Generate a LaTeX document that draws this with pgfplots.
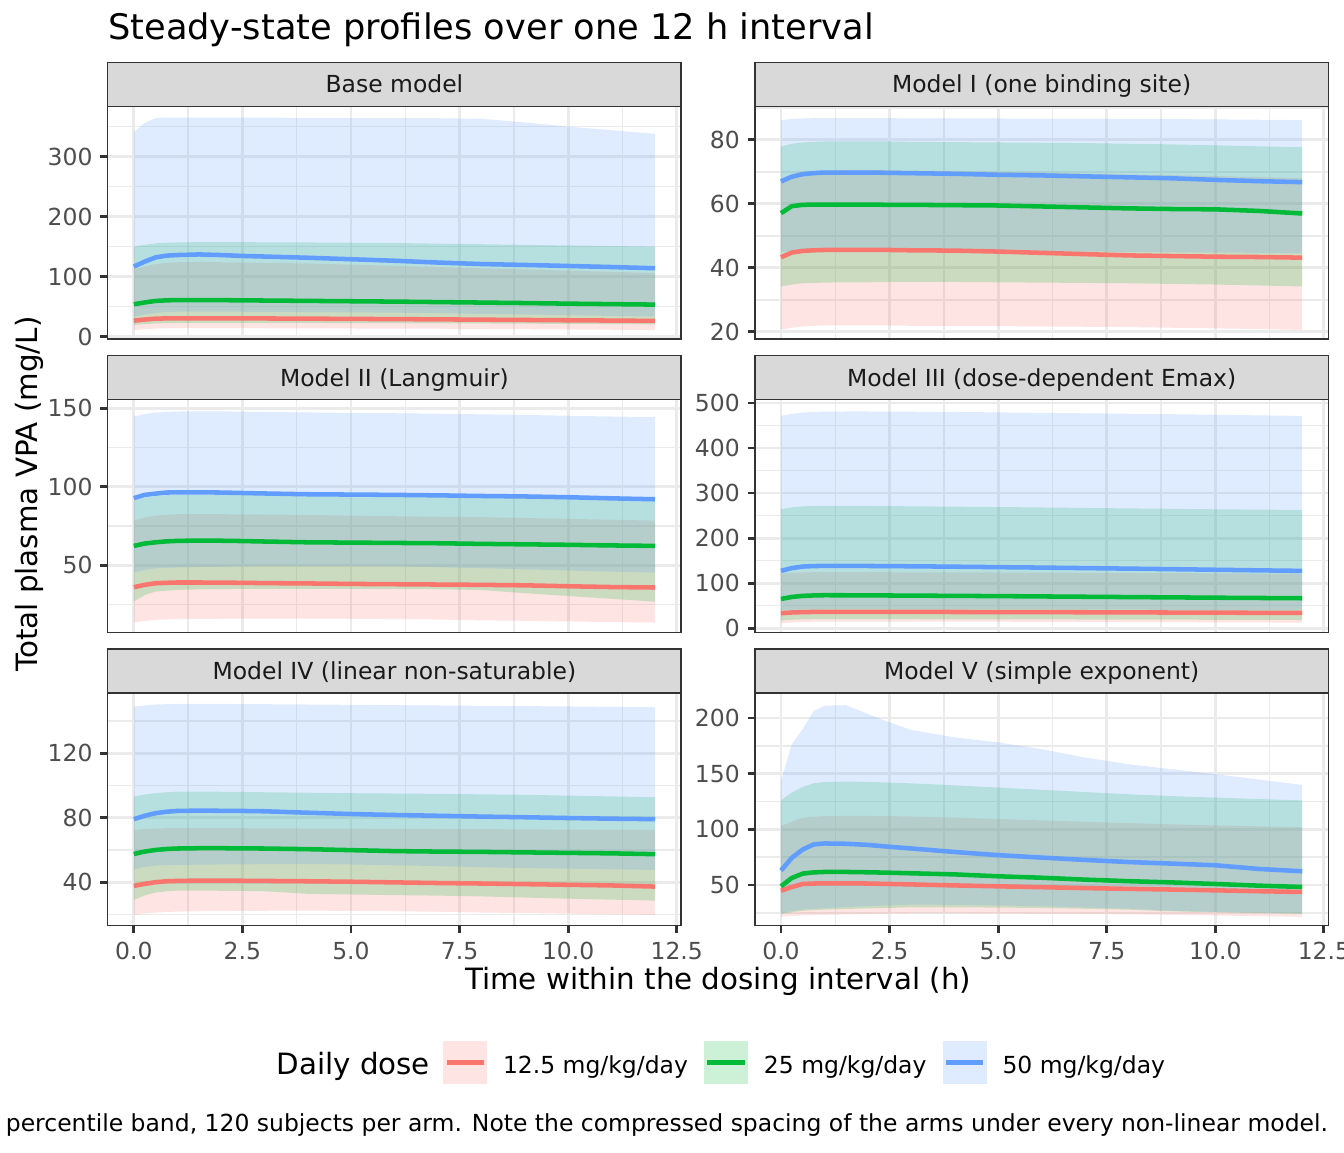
\documentclass[border=0pt]{standalone}
\usepackage{pgfplots}
\pgfplotsset{compat=1.18}
\usepackage{pgfplotstable}
\usepgfplotslibrary{fillbetween}
\usepackage{fontspec}
\setmainfont{DejaVu Sans}
\definecolor{cR}{HTML}{F8766D}
\definecolor{cG}{HTML}{00BA38}
\definecolor{cB}{HTML}{619CFF}
\definecolor{g92}{HTML}{EBEBEB}
\definecolor{g85}{HTML}{D9D9D9}
\definecolor{g20}{HTML}{333333}
\definecolor{g30}{HTML}{4D4D4D}
\definecolor{g10}{HTML}{1A1A1A}

\pgfplotstableread{
t rlo rmed rhi glo gmed ghi blo bmed bhi
0 11 26.7 112 19.5 54 150 33 116.7 341
0.25 12.5 28.5 117 21 57 153 37 125 356
0.5 13.5 30 121 22 59.5 155.5 39.5 132 364
0.75 14 30.4 123 22.5 60.5 156.5 41 135 365
1 14 30.6 124 23 61 157 41.5 136 365
1.5 14 30.6 124.5 23 61 157.5 41.5 137 365
2 14 30.5 124 23 60.8 157.5 41.5 136 365
2.5 14 30.4 123.5 23 60.5 157.5 41.5 134.5 365
3 14 30.3 123 23 60.2 157.2 41.3 133.5 365
4 13.8 30 122 22.8 59.6 157 41 131.5 364.5
5 13.6 29.6 120 22.6 59 156.5 40.5 129 364.5
6 13.4 29.2 118 22.4 58.4 156 40 126.5 364
7 13.2 28.8 116 22.2 57.6 155 39 123.5 364
8 12.8 28.3 114 22 56.8 154 38 121 363
9 12.4 27.8 112 21.6 56 153 37 119.5 357
10 12 27.3 110 21.3 55 152 36 117.8 350
11 11.5 26.8 108 21 54.2 151 34.5 116 344
12 11 26.2 106 20.5 53.4 150 33.5 114 338
}\tBase

\pgfplotstableread{
t rlo rmed rhi glo gmed ghi blo bmed bhi
0 20.7 43.3 68 34.2 57.1 77.9 45 67 86.2
0.25 21.3 44.8 69.3 34.8 59.3 78.8 45.2 68.5 86.5
0.5 21.7 45.3 70 35.2 59.7 79.2 45.3 69.3 86.7
0.75 21.9 45.5 70.3 35.3 59.8 79.4 45.4 69.6 86.8
1 22 45.6 70.5 35.4 59.8 79.5 45.4 69.8 86.8
1.5 22 45.6 70.6 35.5 59.8 79.5 45.4 69.8 86.8
2 22 45.6 70.6 35.5 59.8 79.5 45.4 69.8 86.8
2.5 22 45.6 70.5 35.6 59.7 79.5 45.4 69.7 86.8
3 21.9 45.5 70.4 35.6 59.7 79.4 45.4 69.6 86.7
4 21.9 45.4 70.2 35.6 59.6 79.3 45.3 69.4 86.7
5 21.8 45.1 70 35.5 59.5 79.2 45.3 69.1 86.7
6 21.7 44.7 69.8 35.4 59.2 79.1 45.2 68.9 86.6
7 21.6 44.3 69.5 35.3 58.9 79 45.1 68.6 86.6
8 21.5 43.9 69.2 35.2 58.6 78.8 45 68.3 86.5
9 21.3 43.7 69 35 58.4 78.6 44.9 68 86.5
10 21.1 43.5 68.7 34.8 58.3 78.3 44.8 67.5 86.4
11 20.9 43.4 68.4 34.5 57.8 78 44.7 67.1 86.3
12 20.6 43.2 68 34.2 57 77.7 44.6 66.8 86.2
}\tOne

\pgfplotstableread{
t rlo rmed rhi glo gmed ghi blo bmed bhi
0 13.5 36 78.4 26.8 62.3 91 45.3 92.7 144.7
0.25 14.5 37.5 80.5 31 63.8 93 47 94.8 146.3
0.5 15.2 38.5 81.6 33.2 64.6 94 48 95.6 147.2
0.75 15.5 38.8 82.2 33.8 65.2 94.6 48.4 96.3 147.6
1 15.6 39 82.5 34.3 65.5 94.8 48.6 96.4 147.9
1.5 15.8 39 82.6 34.6 65.7 95 48.9 96.4 148
2 15.9 38.9 82.5 34.8 65.6 95 49.1 96.3 148
2.5 16 38.8 82.4 34.9 65.4 94.8 49.3 96 147.8
3 16 38.6 82.3 34.9 65.1 94.6 49.4 95.7 147.6
4 16 38.4 82 34.9 64.6 94.2 49.5 95.2 147.3
5 15.9 38.1 81.6 34.9 64.4 94 49.6 95 147
6 15.7 37.9 81.2 34.8 64.2 93.8 49.3 94.8 146.8
7 15.4 37.7 80.9 34.7 64 93.6 48.8 94.5 146.5
8 14.9 37.5 80.6 34.2 63.6 93.3 48.1 94.1 146.1
9 14.6 37.2 80.1 32.2 63.3 92.9 47.4 93.8 145.7
10 14.2 36.6 79.5 30.4 63 92.5 46.6 93.3 145.2
11 13.8 36.1 79 28.6 62.6 92 45.9 92.6 144.7
12 13.5 35.8 78.4 26.8 62.3 90.8 45.3 92 144.3
}\tTwo

\pgfplotstableread{
t rlo rmed rhi glo gmed ghi blo bmed bhi
0 11 33.3 121 17 65 264 39.3 127.3 471
0.25 13 35 123 18.8 69.5 268.5 41 133.5 476
0.5 14 35.8 124 19.6 71.8 270.5 41.8 136.9 478.6
0.75 14.5 36.2 124.3 20 72.8 271.3 42.1 138 480
1 14.8 36.3 124.5 20 73.3 271.5 42.2 138.4 480.8
1.5 14.8 36.3 124.5 20 73.2 271.5 42.2 138.4 481
2 14.8 36.3 124.4 20 73 271.3 42.2 138.2 481
2.5 14.8 36.2 124.3 20 72.7 271 42.2 137.9 480.8
3 14.7 36.2 124.2 20 72.4 270.6 42.1 137.5 480.5
4 14.6 36.1 124 19.9 71.9 269.8 42 136.6 480
5 14.5 35.9 123.7 19.8 71.3 269 41.9 135.6 479
6 14.3 35.7 123.4 19.6 70.6 268 41.7 134.6 478
7 14.1 35.5 123.1 19.4 69.9 267 41.5 133.5 477
8 13.8 35.2 122.7 19.2 69.2 266 41.2 132.3 476
9 13.5 34.9 122.3 19 68.5 265 40.9 131.1 475
10 13.2 34.6 121.9 18.8 67.8 264 40.6 129.8 473.7
11 12.9 34.3 121.4 18.6 67.2 263.2 40.3 128.5 472.4
12 12.5 34.1 121 18.5 66.6 262.6 40 127.3 471.2
}\tThree

\pgfplotstableread{
t rlo rmed rhi glo gmed ghi blo bmed bhi
0 19.7 37.7 72.4 29 57.5 93.1 48 79.1 148.9
0.25 20.6 39 73 31.8 59 94.4 49.5 81.2 149.6
0.5 21.2 40 73.3 33.6 60 95.2 50.3 82.8 150.2
0.75 21.5 40.6 73.5 34.4 60.6 95.8 50.6 83.7 150.4
1 21.8 40.8 73.5 34.8 60.9 96.2 50.7 84.2 150.6
1.5 22 41 73.5 34.8 61.1 96.2 50.9 84.4 150.6
2 22.1 41 73.5 34.7 61.1 96.1 51 84.3 150.6
2.5 22.2 40.9 73.5 34.6 61 96 51.1 84.2 150.5
3 22.3 40.8 73.4 34.4 60.9 95.8 51.2 84 150.4
4 22.4 40.6 73.3 32.8 60.5 95.5 51.3 83.1 150.2
5 22.2 40.3 73.2 32.4 59.9 95.2 51 82.3 150
6 22 39.9 73.1 32 59.3 95 50.5 81.7 149.8
7 21.7 39.5 73 31.7 59 94.8 50 81.2 149.6
8 21.2 39.2 72.9 31.2 58.8 94.5 49.3 80.7 149.4
9 20.9 38.8 72.8 30.5 58.5 94.2 48.8 80.3 149.2
10 20.5 38.4 72.6 29.8 58.2 93.7 48.4 79.8 149
11 20.1 38 72.5 29.2 57.9 93.2 48 79.4 148.7
12 19.7 37.3 72.4 28.6 57.4 92.7 47.6 79.1 148.5
}\tFour

\pgfplotstableread{
t rlo rmed rhi glo gmed ghi blo bmed bhi
0 21.4 44.9 102.9 23.8 48.8 126 24.7 62.9 143.5
0.25 22.2 48.2 107 25.5 56.3 133 26.5 74.4 176.6
0.5 22.8 50.9 110.4 26.8 60.2 138.1 28 81.9 190.1
0.75 23 51.3 111.3 27.4 61.3 141.4 28.7 86.4 206
1 23.2 51.5 111.9 27.8 61.7 142.5 29.2 87.3 211.1
1.5 23.6 51.5 112 28.4 61.7 142.9 30.2 87 211.5
2 23.9 51.3 112 29 61.4 142.6 31 86 203.6
2.5 24.2 50.9 111.9 29.4 61 142 31.7 84.3 196.1
3 24.4 50.5 111.5 29.9 60.5 141.3 32.3 82.8 189.2
4 24.4 49.6 110.5 29.9 59.5 139.5 32.2 79.6 182.6
5 24.3 48.8 109.3 29.7 57.8 137.5 31.7 76.8 178.1
6 24.1 48 108 29.3 56.5 135.5 30.8 74.6 172
7 23.9 47.2 106.8 28.6 54.8 133.5 29.8 72.5 164.5
8 23.6 46.5 105.6 27.8 53.4 131.5 28.7 70.6 158.5
9 23.2 45.9 104.5 26.3 52.3 129.8 26.8 69.2 154
10 22.6 45.2 103.5 25.5 50.9 128.5 25.8 67.7 149.5
11 22 44.4 102.7 24.7 49.4 127.2 25.2 64.4 144.7
12 21.4 43.7 102 24 48.2 126 24.7 62.3 139.9
}\tFive

\pgfplotsset{
  panel/.style={
    scale only axis, width=215pt, height=87.2pt, anchor=south west,
    xmin=-0.6, xmax=12.6, no marks,
    xtick={0,2.5,5,7.5,10,12.5},
    minor xtick={1.25,3.75,6.25,8.75,11.25},
    grid=both,
    major grid style={g92, line width=1.07pt},
    minor grid style={g92, line width=0.53pt},
    axis line style={g20, line width=0.55pt},
    tick align=outside, xtick pos=bottom, ytick pos=left,
    major tick length=2.75pt, minor tick length=0pt,
    tick style={g20, line width=1.07pt},
    tick label style={font=\fontsize{8.8}{10}\selectfont, text=g30, inner sep=0pt},
    yticklabel style={xshift=-2.75pt},
    xticklabel style={yshift=-3.3pt},
    /pgf/number format/assume math mode=true,
  },
  toprow/.style={xticklabels={}, xtick style={draw=none}},
  botrow/.style={xticklabels={0.0,2.5,5.0,7.5,10.0,12.5}},
}

\newcommand\bands[2]{%
  \addplot[draw=none, forget plot, name path=rl#2] table[x=t,y=rlo]{#1};
  \addplot[draw=none, forget plot, name path=rh#2] table[x=t,y=rhi]{#1};
  \addplot[draw=none, forget plot, name path=gl#2] table[x=t,y=glo]{#1};
  \addplot[draw=none, forget plot, name path=gh#2] table[x=t,y=ghi]{#1};
  \addplot[draw=none, forget plot, name path=bl#2] table[x=t,y=blo]{#1};
  \addplot[draw=none, forget plot, name path=bh#2] table[x=t,y=bhi]{#1};
  \addplot[fill=cR, fill opacity=0.2, draw=none, forget plot] fill between[of=rl#2 and rh#2];
  \addplot[fill=cG, fill opacity=0.2, draw=none, forget plot] fill between[of=gl#2 and gh#2];
  \addplot[fill=cB, fill opacity=0.2, draw=none, forget plot] fill between[of=bl#2 and bh#2];
  \addplot[cR, line width=1.7pt, line join=round, forget plot] table[x=t,y=rmed]{#1};
  \addplot[cG, line width=1.7pt, line join=round, forget plot] table[x=t,y=gmed]{#1};
  \addplot[cB, line width=1.7pt, line join=round, forget plot] table[x=t,y=bmed]{#1};
}

\newcommand\strip[3]{%
  \draw[fill=g85, draw=g20, line width=0.55pt] (#1pt,#2pt) rectangle ++(215pt,16.5pt);
  \node[anchor=base, inner sep=0pt, text=g10, font=\fontsize{8.8}{10}\selectfont]
    at ([xshift=107.5pt,yshift=5.1pt]#1pt,#2pt) {#3};
}

\begin{document}
\begin{tikzpicture}

% Row 1
\begin{axis}[panel, toprow, at={(40.4pt,304.9pt)}, ymin=-3.8, ymax=383.7,
  ytick={0,100,200,300}, minor ytick={50,150,250,350}]
\bands{\tBase}{A}
\end{axis}
\begin{axis}[panel, toprow, at={(283.1pt,304.9pt)}, ymin=17.8, ymax=90.47,
  ytick={20,40,60,80}, minor ytick={30,50,70,90}]
\bands{\tOne}{B}
\end{axis}
% Row 2
\begin{axis}[panel, toprow, at={(40.4pt,194.9pt)}, ymin=7.3, ymax=155.4,
  ytick={50,100,150}, minor ytick={25,75,125}]
\bands{\tTwo}{C}
\end{axis}
\begin{axis}[panel, toprow, at={(283.1pt,194.9pt)}, ymin=-8.9, ymax=507.1,
  ytick={0,100,200,300,400,500}, minor ytick={50,150,250,350,450}]
\bands{\tThree}{D}
\end{axis}
% Row 3
\begin{axis}[panel, botrow, at={(40.4pt,84.9pt)}, ymin=13.1, ymax=157.3,
  ytick={40,80,120}, minor ytick={20,60,100,140}]
\bands{\tFour}{E}
\end{axis}
\begin{axis}[panel, botrow, at={(283.1pt,84.9pt)}, ymin=13.5, ymax=222.4,
  ytick={50,100,150,200}, minor ytick={25,75,125,175},
  legend columns=-1,
  legend style={at={(-0.544,-0.589)}, anchor=west, draw=none, fill=none,
    inner sep=0pt, outer sep=0pt, font=\fontsize{8.8}{10}\selectfont,
    nodes={inner sep=0pt, outer sep=0pt}, column sep=0pt,
    /tikz/every odd column/.append style={column sep=6.0pt},
    /tikz/every even column/.append style={column sep=6.0pt}},
  legend cell align=left]
\bands{\tFive}{F}
\addlegendimage{legend image code/.code={
  \fill[cR!20] (0pt,-6.3pt) rectangle (16.1pt,9.3pt);
  \draw[cR, line width=1.6pt] (1.1pt,1.5pt) -- (15pt,1.5pt);}}
\addlegendentry{12.5 mg/kg/day}
\addlegendimage{legend image code/.code={
  \fill[cG!20] (0pt,-6.3pt) rectangle (16.1pt,9.3pt);
  \draw[cG, line width=1.6pt] (1.1pt,1.5pt) -- (15pt,1.5pt);}}
\addlegendentry{25 mg/kg/day}
\addlegendimage{legend image code/.code={
  \fill[cB!20] (0pt,-6.3pt) rectangle (16.1pt,9.3pt);
  \draw[cB, line width=1.6pt] (1.1pt,1.5pt) -- (15pt,1.5pt);}}
\addlegendentry{50 mg/kg/day}
\end{axis}

% strips
\strip{40.4}{392.1}{Base model}
\strip{283.1}{392.1}{Model I (one binding site)}
\strip{40.4}{282.1}{Model II (Langmuir)}
\strip{283.1}{282.1}{Model III (dose-dependent Emax)}
\strip{40.4}{172.1}{Model IV (linear non-saturable)}
\strip{283.1}{172.1}{Model V (simple exponent)}

% titles
\node[anchor=base west, inner sep=0pt, font=\fontsize{13.2}{15}\selectfont]
  at (40.4pt,417pt) {Steady-state profiles over one 12 h interval};
\node[anchor=base, inner sep=0pt, font=\fontsize{11}{13}\selectfont]
  at (269.3pt,61.1pt) {Time within the dosing interval (h)};
\node[anchor=base, rotate=90, inner sep=0pt, font=\fontsize{11}{13}\selectfont]
  at (13.9pt,246.75pt) {Total plasma VPA (mg/L)};
\node[anchor=base west, inner sep=0pt, font=\fontsize{11}{13}\selectfont]
  at (103.5pt,29.25pt) {Daily dose};
\node[anchor=base east, inner sep=0pt, font=\fontsize{8.8}{10}\selectfont]
  at (498.2pt,7.6pt) {Lines: median; ribbons: 5th–95th percentile band, 120 subjects per arm. Note the compressed spacing of the arms under every non-linear model.};

\pgfresetboundingbox
\useasboundingbox (0,0) rectangle (504pt,432pt);
\end{tikzpicture}
\end{document}
